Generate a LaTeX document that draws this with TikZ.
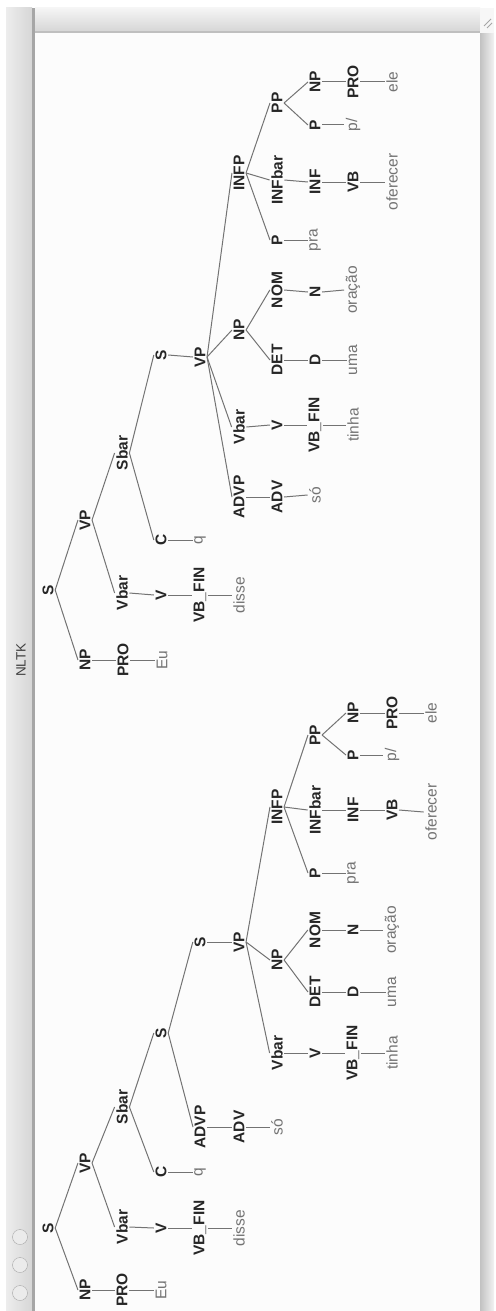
\documentclass[tikz,border=0pt]{standalone}
\usepackage{fontspec}
\setmainfont{Liberation Sans}
\begin{document}
\begin{tikzpicture}[x=1pt,y=-1pt,
  lab/.style={rotate=90,font=\bfseries\fontsize{15.5}{16}\selectfont,text=black!85,inner sep=1.5pt},
  leaf/.style={rotate=90,font=\fontsize{15.5}{16}\selectfont,text=black!55,inner sep=1.5pt},
  edge/.style={draw=black!55,line width=1pt},
  btn/.style={circle,draw=black!35,fill=black!8,minimum size=15pt,inner sep=0pt}]
\useasboundingbox (0,0) rectangle (495,1311);
\fill[white] (0,0) rectangle (495,1311);
% window: title bar on the left, canvas, scroll strips
\shade[left color=black!7,right color=black!16] (6,8) rectangle (32,1311);
\fill[black!35] (32,8) rectangle (35,1311);
\fill[black!1] (35,32) rectangle (480,1311);
\shade[top color=black!4,bottom color=black!16] (35,8) rectangle (480,31);
\fill[black!25] (35,31) rectangle (480,33);
\shade[left color=black!24,right color=black!5] (480,33) rectangle (494,1311);
\fill[black!3] (480,8) rectangle (494,33);
\draw[black!35,line width=0.8pt] (484,26) -- (491,19) (487,28) -- (492,23);
\node[rotate=90,font=\fontsize{13.5}{14}\selectfont,text=black!75] (title) at (21,660) {NLTK};
\node[btn] (b1) at (20,1237) {};
\node[btn] (b2) at (20,1265) {};
\node[btn] (b3) at (20,1293) {};

% first tree
\node[lab] (aS) at (48,1228) {S};
\node[lab] (aNP) at (85,1290) {NP};
\node[lab] (aPRO) at (122,1290) {PRO};
\node[leaf] (aEu) at (161,1290) {Eu};
\node[lab] (aVP) at (85,1163) {VP};
\node[lab] (aVbar) at (122,1227) {Vbar};
\node[lab] (aV) at (161,1228) {V};
\node[lab] (aVBF) at (200,1228) {VB\_FIN};
\node[leaf] (adisse) at (239,1228) {disse};
\node[lab] (aSbar) at (122,1107) {Sbar};
\node[lab] (aC) at (161,1172) {C};
\node[leaf] (aq) at (200,1172) {q};
\node[lab] (aS2) at (161,1033) {S};
\node[lab] (aADVP) at (200,1127) {ADVP};
\node[lab] (aADV) at (239,1127) {ADV};
\node[leaf] (aso) at (277,1127) {só};
\node[lab] (aS3) at (200,942) {S};
\node[lab] (aVP2) at (239,942) {VP};
\node[lab] (aVbar2) at (277,1053) {Vbar};
\node[lab] (aV2) at (315,1053) {V};
\node[lab] (aVBF2) at (353,1053) {VB\_FIN};
\node[leaf] (atinha) at (392,1053) {tinha};
\node[lab] (aNP2) at (277,960) {NP};
\node[lab] (aDET) at (315,992) {DET};
\node[lab] (aD) at (353,992) {D};
\node[leaf] (auma) at (392,992) {uma};
\node[lab] (aNOM) at (315,930) {NOM};
\node[lab] (aN) at (353,930) {N};
\node[leaf] (aoracao) at (392,930) {oração};
\node[lab] (aINFP) at (277,807) {INFP};
\node[lab] (aP) at (315,873) {P};
\node[leaf] (apra) at (353,873) {pra};
\node[lab] (aINFbar) at (315,810) {INFbar};
\node[lab] (aINF) at (353,810) {INF};
\node[lab] (aVB) at (392,810) {VB};
\node[leaf] (aoferecer) at (431,812) {oferecer};
\node[lab] (aPP) at (315,735) {PP};
\node[lab] (aP2) at (353,755) {P};
\node[leaf] (apb) at (392,755) {p/};
\node[lab] (aNP3) at (353,713) {NP};
\node[lab] (aPRO2) at (392,713) {PRO};
\node[leaf] (aele) at (431,713) {ele};

% second tree
\node[lab] (bS) at (48,590) {S};
\node[lab] (bNP) at (85,660) {NP};
\node[lab] (bPRO) at (123,660) {PRO};
\node[leaf] (bEu) at (162,660) {Eu};
\node[lab] (bVP) at (85,520) {VP};
\node[lab] (bVbar) at (122,593) {Vbar};
\node[lab] (bV) at (161,595) {V};
\node[lab] (bVBF) at (200,595) {VB\_FIN};
\node[leaf] (bdisse) at (239,595) {disse};
\node[lab] (bSbar) at (122,453) {Sbar};
\node[lab] (bC) at (161,540) {C};
\node[leaf] (bq) at (200,540) {q};
\node[lab] (bS2) at (161,355) {S};
\node[lab] (bVP2) at (200,357) {VP};
\node[lab] (bADVP) at (239,497) {ADVP};
\node[lab] (bADV) at (277,497) {ADV};
\node[leaf] (bso) at (315,495) {só};
\node[lab] (bVbar2) at (239,427) {Vbar};
\node[lab] (bV2) at (277,425) {V};
\node[lab] (bVBF2) at (315,425) {VB\_FIN};
\node[leaf] (btinha) at (353,425) {tinha};
\node[lab] (bNP2) at (239,330) {NP};
\node[lab] (bDET) at (277,360) {DET};
\node[lab] (bD) at (315,360) {D};
\node[leaf] (buma) at (353,360) {uma};
\node[lab] (bNOM) at (277,290) {NOM};
\node[lab] (bN) at (315,292) {N};
\node[leaf] (boracao) at (353,290) {oração};
\node[lab] (bINFP) at (239,173) {INFP};
\node[lab] (bP) at (277,240) {P};
\node[leaf] (bpra) at (315,240) {pra};
\node[lab] (bINFbar) at (277,180) {INFbar};
\node[lab] (bINF) at (315,182) {INF};
\node[lab] (bVB) at (353,182) {VB};
\node[leaf] (boferecer) at (392,182) {oferecer};
\node[lab] (bPP) at (277,103) {PP};
\node[lab] (bP2) at (315,125) {P};
\node[leaf] (bpb) at (353,125) {p/};
\node[lab] (bNP3) at (315,82) {NP};
\node[lab] (bPRO2) at (353,82) {PRO};
\node[leaf] (bele) at (392,82) {ele};

% branches: parent bottom to child top
\foreach \t in {a,b}{
  \foreach \p/\c in {S/NP,NP/PRO,PRO/Eu,S/VP,VP/Vbar,Vbar/V,V/VBF,VBF/disse,VP/Sbar,
      Sbar/C,C/q,Sbar/S2,VP2/Vbar2,Vbar2/V2,V2/VBF2,VBF2/tinha,VP2/NP2,NP2/DET,DET/D,D/uma,
      NP2/NOM,NOM/N,N/oracao,VP2/INFP,INFP/P,P/pra,INFP/INFbar,INFbar/INF,INF/VB,VB/oferecer,
      INFP/PP,PP/P2,P2/pb,PP/NP3,NP3/PRO2,PRO2/ele,ADVP/ADV,ADV/so}
    \draw[edge] (\t\p.south) -- (\t\c.north);
}
% where the two trees differ
\draw[edge] (aS2.south) -- (aADVP.north);
\draw[edge] (aS2.south) -- (aS3.north);
\draw[edge] (aS3.south) -- (aVP2.north);
\draw[edge] (bS2.south) -- (bVP2.north);
\draw[edge] (bVP2.south) -- (bADVP.north);
\end{tikzpicture}
\end{document}
